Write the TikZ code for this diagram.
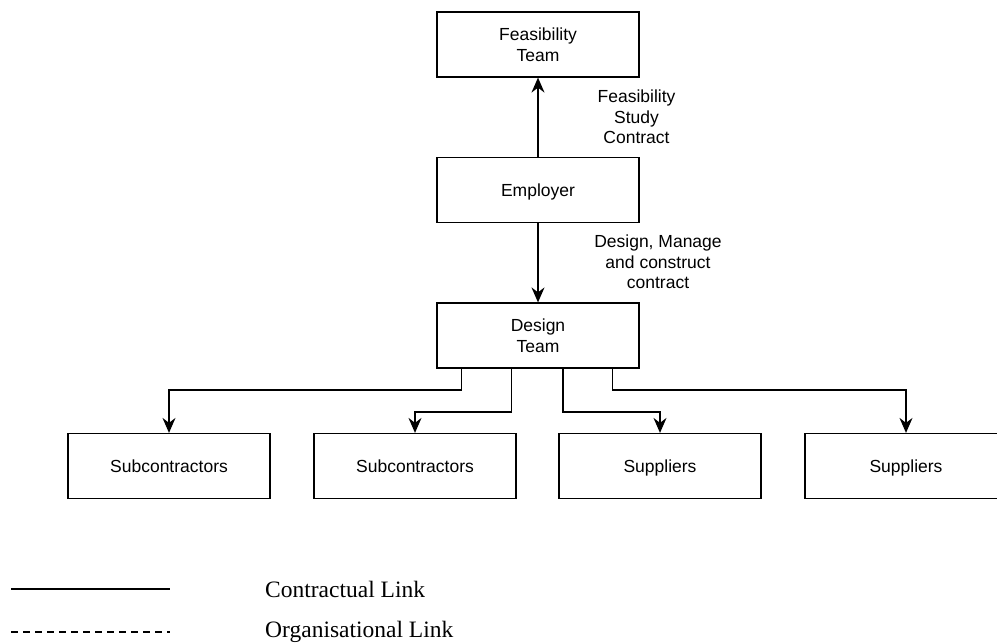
\documentclass[tikz,border=0pt]{standalone}
\usepackage{fontspec}
\setmainfont{Liberation Serif}
\newfontfamily\diagfont{Liberation Sans}
\usetikzlibrary{arrows.meta,calc}

\tikzset{
  box/.style={draw=black, line width=1.2pt, rectangle, minimum width=202pt,
    minimum height=65pt, inner sep=0pt, align=center,
    font=\diagfont\fontsize{17.5}{21}\selectfont},
  oneline/.style={text height=13pt, text depth=0pt},
  linklabel/.style={align=center, inner sep=0pt,
    font=\diagfont\fontsize{17.5}{20.5}\selectfont},
  link/.style={line width=1.5pt, -{Stealth[length=15pt,width=13pt,inset=5pt]}},
  legendtext/.style={anchor=base west, inner sep=0pt,
    font=\fontsize{23.5}{26}\selectfont},
  legendline/.style={line width=2pt}
}

\begin{document}
\begin{tikzpicture}[x=1pt, y=-1pt]
  \useasboundingbox (0,0) rectangle (997,643);

  % organisation boxes
  \node[box] (feas) at (538,44.5) {Feasibility\\Team};
  \node[box, oneline] (emp)  at (538,190) {Employer};
  \node[box] (des)  at (538,335.5) {Design\\Team};
  \node[box, oneline] (sub1) at (169,466) {Subcontractors};
  \node[box, oneline] (sub2) at (415,466) {Subcontractors};
  \node[box, oneline] (sup1) at (660,466) {Suppliers};
  \node[box, oneline] (sup2) at (906,466) {Suppliers};

  % contractual links
  \draw[link] (emp.north) -- (feas.south);
  \draw[link] (emp.south) -- (des.north);

  \node[linklabel] (lblfeas) at (636.5,117) {Feasibility\\Study\\Contract};
  \node[linklabel] (lbldes) at (658,262) {Design, Manage\\and construct\\contract};

  % branches from the design team
  \draw[link] ($(des.south west)+(25,0)$) |- ($(sub1.north)+(0,-43)$) -- (sub1.north);
  \draw[link] ($(des.south west)+(75,0)$) |- ($(sub2.north)+(0,-21)$) -- (sub2.north);
  \draw[link] ($(des.south)+(25,0)$) |- ($(sup1.north)+(0,-21)$) -- (sup1.north);
  \draw[link] ($(des.south east)+(-27,0)$) |- ($(sup2.north)+(0,-43)$) -- (sup2.north);

  % legend
  \coordinate (solidA) at (11,589);
  \coordinate (solidB) at (170,589);
  \coordinate (dashA) at (11,632);
  \coordinate (dashB) at (170,632);
  \draw[legendline] (solidA) -- (solidB);
  \draw[legendline, dash pattern=on 7pt off 5pt] (dashA) -- (dashB);
  \node[legendtext] (legc) at (265,597) {Contractual Link};
  \node[legendtext] (lego) at (265,637) {Organisational Link};
\end{tikzpicture}
\end{document}
